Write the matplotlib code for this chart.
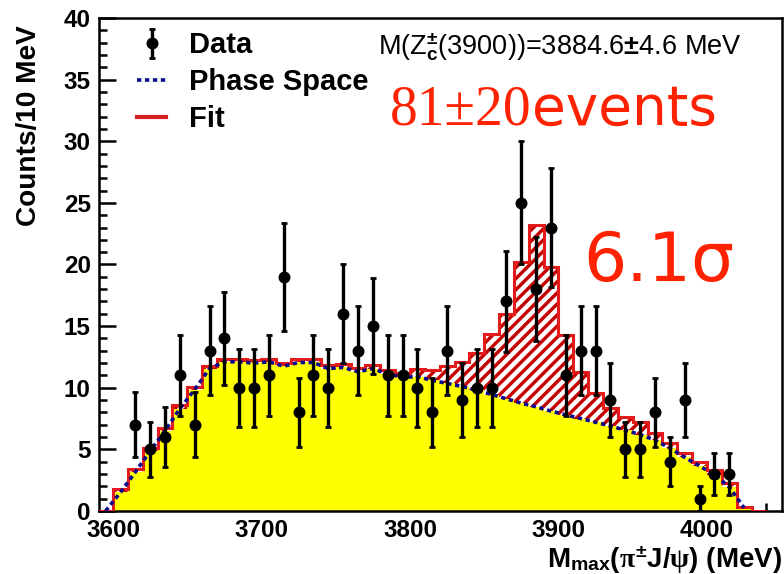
import numpy as np
import matplotlib
matplotlib.use("Agg")
import matplotlib.pyplot as plt
from matplotlib.lines import Line2D
from matplotlib.ticker import MultipleLocator

plt.rcParams['font.family'] = ['Liberation Sans', 'DejaVu Sans']
plt.rcParams['font.weight'] = 'bold'
plt.rcParams['mathtext.fontset'] = 'custom'
plt.rcParams['mathtext.rm'] = 'Liberation Sans'
plt.rcParams['mathtext.bf'] = 'Liberation Sans:bold'
plt.rcParams['mathtext.it'] = 'Liberation Serif'
plt.rcParams['hatch.linewidth'] = 3.2

# 10 MeV bins from 3590 to 4040 MeV
edges = np.arange(3590, 4041, 10)
centers = edges[:-1] + 5

# phase space MC shape (yellow), one value per bin
phase_space = [0.0, 1.5, 3.15, 4.85, 6.5, 8.3, 9.85, 11.55, 12.1, 12.1,
               12.0, 12.1, 11.75, 12.05, 12.05, 11.55, 11.65, 11.3, 11.55, 11.1,
               10.85, 10.9, 10.6, 10.35, 10.1, 9.8, 9.45, 9.1, 8.75, 8.45,
               8.1, 7.8, 7.5, 7.2, 6.9, 6.55, 6.2, 5.75, 5.1, 4.35,
               3.65, 2.95, 1.95, 0.25, 0.0]

# total fit = phase space + Zc(3900) signal
fit_total = [0.0, 1.76, 3.4, 5.1, 6.76, 8.57, 10.1, 11.8, 12.35, 12.35,
             12.25, 12.35, 12.0, 12.3, 12.3, 11.85, 11.95, 11.6, 11.85, 11.45,
             11.2, 11.55, 11.4, 11.8, 12.1, 12.8, 14.4, 16.0, 20.2, 23.2,
             19.8, 14.3, 11.3, 9.55, 8.35, 7.65, 7.25, 6.3, 5.5, 4.7,
             4.0, 3.3, 2.25, 0.3, 0.0]

# observed counts per bin (0 = no entry)
data_counts = [0, 0, 7, 5, 6, 11, 7, 13, 14, 10,
               10, 11, 19, 8, 11, 10, 16, 13, 15, 11,
               11, 10, 8, 13, 9, 10, 10, 17, 25, 18,
               23, 11, 13, 13, 9, 5, 5, 8, 4, 9,
               1, 3, 3, 0, 0]

ps = np.array(phase_space)
fit = np.array(fit_total)
cnt = np.array(data_counts, dtype=float)
has = cnt > 0

fig = plt.figure(figsize=(7.84, 5.74), dpi=100)
ax = fig.add_axes([0.1263, 0.1098, 0.8711, 0.8588])

# signal region: red with white hatching, then outline
ax.stairs(fit, edges, fill=True, facecolor='#c40000', edgecolor='white',
          hatch='///', linewidth=0, zorder=1)
ax.stairs(ps, edges, fill=True, color='#ffff00', linewidth=0, zorder=2)
ax.stairs(fit, edges, color='#e41b1b', linewidth=2.2, baseline=None, zorder=3)
ax.plot(centers[:-1], ps[:-1], color='#0a0a8c', lw=2.6,
        ls=(0, (1.2, 1.0)), zorder=4)

data = ax.errorbar(centers[has], cnt[has], yerr=np.sqrt(cnt[has]), fmt='o',
                   color='black', ms=7.6, elinewidth=2.4, capsize=2, capthick=2,
                   zorder=5)

ax.set_xlim(3590.6, 4050.5)
ax.set_ylim(0, 40)
ax.xaxis.set_major_locator(MultipleLocator(100))
ax.xaxis.set_minor_locator(MultipleLocator(20))
ax.yaxis.set_major_locator(MultipleLocator(5))
ax.yaxis.set_minor_locator(MultipleLocator(1))
ax.tick_params(which='both', direction='in', width=1.8, labelsize=17.5)
ax.tick_params(which='major', length=12)
ax.tick_params(which='minor', length=6)
ax.tick_params(axis='x', pad=5.5)
ax.tick_params(axis='y', pad=6)
for s in ax.spines.values():
    s.set_linewidth(1.8)

ax.set_ylabel('Counts/10 MeV', fontsize=20.2, fontweight='bold', loc='top')
ax.yaxis.set_label_coords(-0.083, 0.985)
ax.set_xlabel(r'M$_{\bf max}$($\pi^{\pm}$J/$\psi$) (MeV)', fontsize=20,
              fontweight='bold', loc='right')
ax.xaxis.set_label_coords(1.0, -0.067)

handles = [data,
           Line2D([], [], color='#0a0a8c', lw=2.6, ls=(0, (1.2, 1.0))),
           Line2D([], [], color='#d42020', lw=3)]
ax.legend(handles, ['Data', 'Phase Space', 'Fit'], loc='upper left',
          bbox_to_anchor=(0.0556, 0.973), frameon=False,
          prop={'size': 21, 'weight': 'bold'}, handlelength=1.0,
          handletextpad=0.8, labelspacing=0.3, borderpad=0, borderaxespad=0)

ax.text(0.4085, 0.925, r'M(Z$_{\rm c}^{\pm}$(3900))=3884.6$\pm$4.6 MeV',
        transform=ax.transAxes, fontsize=19.5, fontweight='normal',
        va='baseline', ha='left')

num = ax.text(0.426, 0.783, '81\u00b120', transform=ax.transAxes,
              fontsize=40, family='Liberation Serif', fontweight='normal',
              color='#ff2200', va='baseline', ha='left')
ax.annotate('events', xy=(1, 0), xycoords=num, xytext=(0, 0),
            textcoords='offset points', fontsize=39.5, family='DejaVu Sans',
            fontweight='normal', color='#ff2200', va='bottom', ha='left')

ax.text(0.7087, 0.4665, '6.1\u03c3', transform=ax.transAxes, fontsize=49,
        family='DejaVu Sans', fontweight='normal', color='#ff2200',
        va='baseline', ha='left')

fig.savefig('out.png', dpi=100, facecolor='white')
